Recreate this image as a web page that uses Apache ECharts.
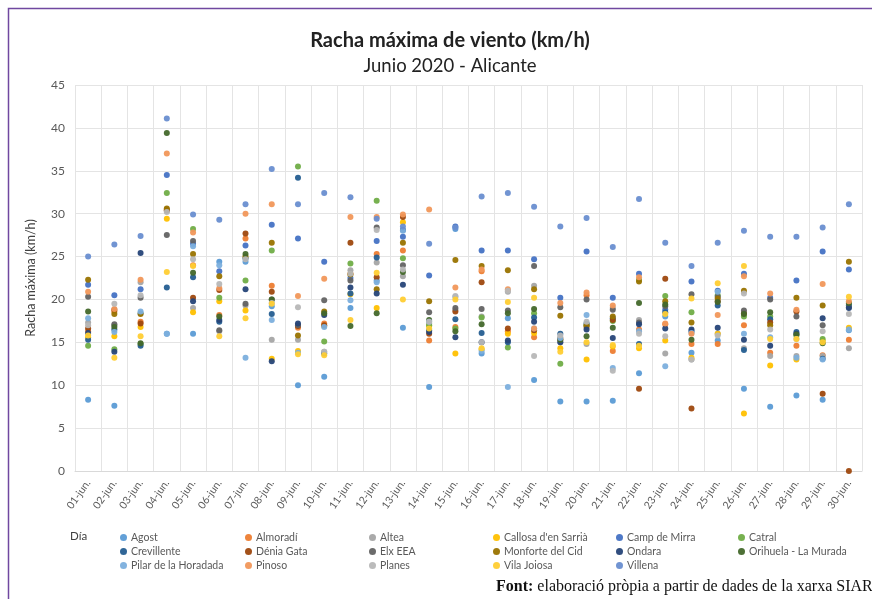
<!DOCTYPE html>
<html>
<head>
<meta charset="utf-8">
<script src="https://cdn.jsdelivr.net/npm/echarts@6/dist/echarts.min.js"></script>
<style>
  html, body { margin: 0; padding: 0; background: #fff; }
  #main { width: 872px; height: 599px; }
</style>
</head>
<body>
<div id="main"></div>
<script>
var days = ['01-jun.', '02-jun.', '03-jun.', '04-jun.', '05-jun.', '06-jun.', '07-jun.', '08-jun.', '09-jun.', '10-jun.',
  '11-jun.', '12-jun.', '13-jun.', '14-jun.', '15-jun.', '16-jun.', '17-jun.', '18-jun.', '19-jun.', '20-jun.',
  '21-jun.', '22-jun.', '23-jun.', '24-jun.', '25-jun.', '26-jun.', '27-jun.', '28-jun.', '29-jun.', '30-jun.'];

var yTicks = [0, 5, 10, 15, 20, 25, 30, 35, 40, 45];

var stations = ['Agost', 'Almoradí', 'Altea', "Callosa d'en Sarrià", 'Camp de Mirra', 'Catral',
  'Crevillente', 'Dénia Gata', 'Elx EEA', 'Monforte del Cid', 'Ondara', 'Orihuela - La Murada',
  'Pilar de la Horadada', 'Pinoso', 'Planes', 'Vila Joiosa', 'Villena'];

// racha máxima diaria (km/h) por estación
var agost = [8.3, 7.6, 18.4, 16.0, 16.0, 24.4, 24.4, 19.2, 10.0, 11.0, 19.0, 22.2, 16.7, 9.8, 28.2, 13.7, 17.8, 10.6, 8.1, 8.1, 8.2, 11.4, 18.0, 13.8, 15.2, 9.6, 7.5, 8.8, 8.3, 16.4];
var almoradi = [16.3, 18.6, 17.4, 30.5, 24.0, 18.2, 27.1, 21.6, 16.7, 17.2, 23.0, 25.3, 25.7, 15.2, 16.8, 23.3, 16.3, 15.6, 15.5, 20.5, 14.0, 16.5, 17.1, 14.8, 14.8, 17.0, 13.8, 14.6, 13.5, 15.3];
var altea = [17.3, 17.0, 22.0, 30.3, 19.0, 16.3, 19.3, 15.3, 15.3, 13.9, 23.4, 24.3, 22.7, 17.2, 18.8, 18.0, 20.9, 21.6, 15.0, 14.8, 19.0, 17.6, 13.7, 13.0, 16.0, 14.3, 13.4, 13.4, 13.4, 14.3];
var callosa = [15.6, 15.7, 16.8, 29.4, 18.5, 19.8, 18.7, 13.1, 14.0, 16.9, 20.6, 19.0, 29.0, 16.9, 13.7, 14.2, 16.0, 16.1, 14.3, 13.0, 14.5, 14.3, 15.2, 13.2, 16.0, 6.7, 12.3, 13.0, 15.2, 16.7];
var campMirra = [21.7, 20.5, 21.2, 34.5, 26.5, 23.3, 26.3, 28.7, 27.1, 24.4, 22.5, 26.8, 27.3, 22.8, 28.5, 25.7, 25.7, 24.7, 20.2, 25.6, 20.2, 23.0, 18.8, 22.1, 21.0, 23.0, 20.2, 22.2, 25.6, 23.5];
var catral = [14.6, 14.2, 14.8, 32.4, 28.2, 20.2, 22.2, 25.7, 35.5, 15.1, 24.2, 31.5, 24.8, 17.0, 16.6, 17.9, 14.4, 18.4, 12.5, 17.0, 17.5, 22.3, 20.4, 18.5, 20.5, 18.0, 18.0, 15.8, 15.4, 19.5];
var crevillente = [15.3, 16.5, 14.6, 21.4, 22.6, 17.4, 24.8, 18.3, 34.2, 13.7, 20.7, 24.9, 28.1, 16.4, 17.7, 16.1, 15.0, 17.9, 16.0, 17.2, 17.8, 14.8, 18.5, 16.3, 19.3, 14.1, 17.7, 16.2, 13.1, 19.3];
var deniaGata = [16.6, 18.8, 17.2, 30.4, 20.2, 21.1, 27.7, 20.9, 16.9, 17.0, 26.6, 22.6, 29.6, 16.0, 18.6, 22.0, 16.6, 16.4, 15.3, 16.8, 17.6, 9.6, 22.4, 7.3, 19.8, 18.4, 17.3, 18.6, 9.0, 0.0];
var elx = [20.3, 17.1, 20.2, 27.5, 26.8, 16.4, 19.5, 20.0, 17.0, 19.9, 22.2, 28.4, 24.0, 18.5, 19.0, 18.9, 18.7, 23.9, 19.1, 20.0, 18.8, 17.3, 19.2, 20.6, 20.3, 18.7, 20.0, 18.0, 17.0, 19.1];
var monforte = [22.3, 18.3, 18.3, 30.6, 25.3, 22.7, 25.0, 26.6, 15.8, 18.6, 22.9, 21.2, 26.6, 19.8, 24.6, 23.9, 23.4, 21.2, 18.1, 17.0, 18.0, 22.1, 19.8, 17.3, 20.1, 21.0, 17.0, 20.2, 19.3, 24.4];
var ondara = [16.1, 13.9, 25.4, null, 19.8, 17.6, 21.2, 12.8, 17.2, 18.2, 21.4, 20.7, 21.7, 16.2, 15.6, 15.0, 15.2, 17.4, 15.0, 16.5, 15.5, 17.1, 16.6, 16.5, 16.7, 15.3, 14.6, 16.0, 17.8, 19.0];
var orihuela = [18.6, 16.8, 14.9, 39.4, 23.1, 18.0, 25.3, 20.0, null, 18.4, 16.9, 18.4, 23.2, 17.6, 16.3, 17.1, 18.4, 18.9, 15.3, 15.7, 16.7, 19.6, 19.4, 15.3, 19.7, 18.3, 18.5, 15.9, 14.9, 19.6];
var pilar = [17.8, 16.2, 18.6, 16.0, 26.2, 24.0, 13.2, 17.6, 13.8, 16.8, 19.9, 22.0, 28.0, 17.4, 20.3, 14.0, 9.8, 16.6, 15.5, 18.2, 12.0, 16.3, 12.2, 16.1, 20.9, 16.0, 15.6, 13.2, 13.0, 16.5];
var pinoso = [20.9, 18.9, 22.3, 37.0, 27.8, 21.3, 30.0, 31.1, 20.4, 22.4, 29.6, 29.6, 29.9, 30.5, 21.4, 23.5, 21.2, 16.6, 19.6, 20.8, 19.3, 22.6, 17.2, 16.0, 18.2, 22.7, 20.7, 18.8, 21.8, 19.8];
var planes = [17.0, 19.5, 20.5, 30.2, 24.7, 21.8, 24.7, 19.6, 19.1, 13.9, 23.0, 28.1, 23.5, 17.4, 20.4, 15.0, 21.0, 13.4, 15.8, 17.4, 11.7, 16.0, 15.7, 13.0, 15.8, 20.7, 16.5, 15.4, 16.3, 18.3];
var vilaJoiosa = [15.8, 13.2, 15.7, 23.2, 23.9, 15.7, 17.8, 19.5, 13.6, 13.5, 17.6, 23.1, 20.0, 16.6, 20.0, 14.3, 19.7, 20.2, 13.9, 15.0, 14.7, 14.6, 18.3, 20.1, 21.9, 23.9, 15.4, 15.4, 15.0, 20.3];
var villena = [25.0, 26.4, 27.4, 41.1, 29.9, 29.3, 31.1, 35.2, 31.1, 32.4, 31.9, 29.4, 28.5, 26.5, 28.4, 32.0, 32.4, 30.8, 28.5, 29.5, 26.1, 31.7, 26.6, 23.9, 26.6, 28.0, 27.3, 27.3, 28.4, 31.1];

var values = [agost, almoradi, altea, callosa, campMirra, catral, crevillente, deniaGata, elx,
  monforte, ondara, orihuela, pilar, pinoso, planes, vilaJoiosa, villena];

var colors = ['#5b9bd5', '#ed7d31', '#a5a5a5', '#ffc000', '#4472c4', '#70ad47',
  '#255e91', '#9e480e', '#636363', '#997300', '#264478', '#43682b',
  '#7cafdd', '#f1975a', '#b7b7b7', '#ffcd33', '#698ed0'];

var chart = echarts.init(document.getElementById('main'));

var series = stations.map(function (name, i) {
  return {
    name: name,
    type: 'scatter',
    symbol: 'circle',
    symbolSize: 6,
    itemStyle: { color: colors[i], opacity: 0.95 },
    data: values[i]
  };
});

// leyenda en 6 columnas x 3 filas, como en Excel
var colX = [120, 245, 369, 493, 616, 738];
var legends = colX.map(function (x, c) {
  var names = [];
  for (var r = 0; r < 3; r++) {
    var k = r * 6 + c;
    if (k < stations.length) names.push(stations[k]);
  }
  return {
    data: names,
    orient: 'vertical',
    left: x,
    top: 532,
    itemWidth: 7,
    itemHeight: 7,
    itemGap: 3,
    icon: 'circle',
    padding: 0,
    selectedMode: false,
    textStyle: { fontFamily: 'Lato', fontSize: 10.5, color: '#595959', padding: [0, 0, 0, -1] }
  };
});

var option = {
  animation: false,
  backgroundColor: '#fff',
  color: colors,
  title: [{
    text: 'Racha máxima de viento (km/h)',
    left: 445,
    top: 26,
    textAlign: 'center',
    textStyle: { fontFamily: 'Lato', fontSize: 20, fontWeight: 'bold', color: '#222' }
  }, {
    text: 'Junio 2020 - Alicante',
    left: 445,
    top: 52,
    textAlign: 'center',
    textStyle: { fontFamily: 'Lato', fontSize: 18.5, fontWeight: 'normal', color: '#222' }
  }],
  legend: legends,
  grid: { left: 75, right: 10, top: 85, bottom: 128, containLabel: false },
  xAxis: {
    type: 'category',
    data: days,
    boundaryGap: true,
    axisLine: { show: true, lineStyle: { color: '#d9d9d9' } },
    axisTick: { show: false },
    splitLine: { show: true, lineStyle: { color: '#e4e4e4' } },
    axisLabel: {
      interval: 0,
      rotate: 55,
      margin: 10,
      fontFamily: 'Lato',
      fontSize: 10.5,
      color: '#595959'
    }
  },
  yAxis: {
    type: 'value',
    min: 0,
    max: 45,
    interval: 5,
    name: 'Racha máxima (km/h)',
    nameLocation: 'middle',
    nameGap: 38,
    nameTextStyle: { fontFamily: 'Lato', fontSize: 12.5, color: '#404040' },
    axisLine: { show: false },
    axisTick: { show: false },
    splitLine: { lineStyle: { color: '#e4e4e4' } },
    axisLabel: {
      margin: 10,
      fontFamily: 'Lato',
      fontSize: 12,
      color: '#595959',
      formatter: function (v) { return yTicks.indexOf(v) >= 0 ? String(v) : ''; }
    }
  },
  graphic: [{
    type: 'rect',
    shape: { x: 8.5, y: 8.5, width: 880, height: 620 },
    style: { fill: 'none', stroke: '#7048a0', lineWidth: 1.5 },
    silent: true
  }, {
    type: 'text',
    left: 70,
    top: 530,
    style: { text: 'Día', font: '11.5px Lato', fill: '#404040' }
  }, {
    type: 'text',
    left: 496,
    top: 579,
    style: {
      text: '{b|Font:} elaboració pròpia a partir de dades de la xarxa SIAR',
      font: '16px "Liberation Serif"',
      fill: '#111',
      rich: { b: { font: 'bold 16px "Liberation Serif"', fill: '#111' } }
    }
  }],
  series: series
};

chart.setOption(option);
</script>
</body>
</html>
